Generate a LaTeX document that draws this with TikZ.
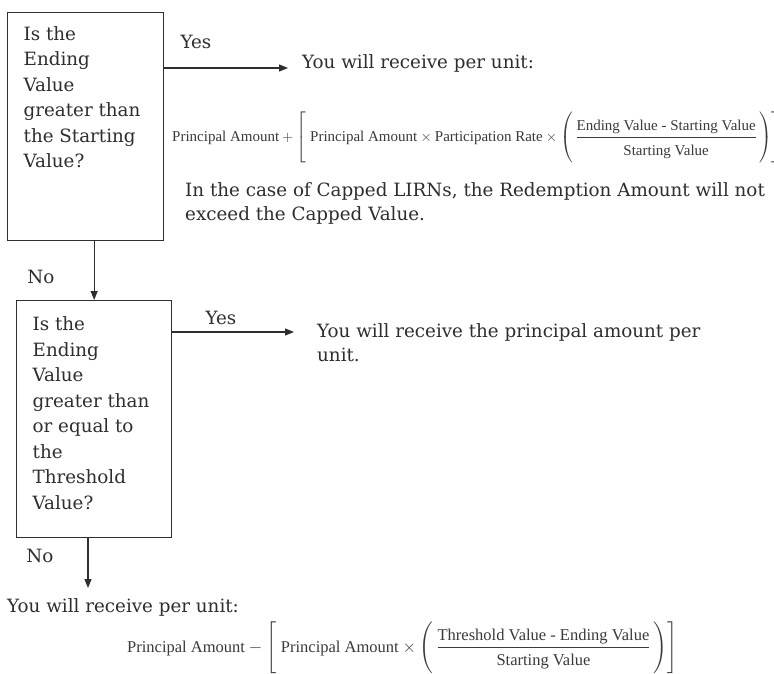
\documentclass[tikz,border=0pt]{standalone}
\usepackage{fontspec}
\usepackage{amsmath}
\setmainfont{DejaVu Serif}
\newfontfamily\formfont{Liberation Serif}
\usetikzlibrary{arrows.meta}
\definecolor{ink}{HTML}{2E2E2E}
\definecolor{fink}{HTML}{3A3A3A}
\begin{document}
\begin{tikzpicture}[x=1pt,y=-1pt,
  box/.style={draw=ink, line width=1.3pt, inner sep=0pt, anchor=north west, text=ink, font=\fontsize{18.3}{25.5}\selectfont},
  lbl/.style={text=ink, inner sep=0pt, font=\fontsize{18.3}{24}\selectfont},
  para/.style={lbl, align=left, anchor=base west},
  formA/.style={text=fink, inner sep=0pt, anchor=base west, font=\formfont\fontsize{15}{18}\selectfont},
  formB/.style={text=fink, inner sep=0pt, anchor=base west, font=\formfont\fontsize{16.5}{19}\selectfont},
  arr/.style={draw=ink, line width=1.1pt, -{Triangle[length=9pt,width=7pt]}}]
\useasboundingbox[fill=white] (0,0) rectangle (774,673);

% decision boxes
\node[box] (b1) at (7,12) {\begin{minipage}[c][228pt][t]{156pt}\setlength{\leftskip}{16pt}\rule{0pt}{27.5pt}Is the\\ Ending\\ Value\\ greater than\\ the Starting\\ Value?\end{minipage}};
\node[box] (b2) at (16,300) {\begin{minipage}[c][237pt][t]{155pt}\setlength{\leftskip}{16pt}\rule{0pt}{30pt}Is the\\ Ending\\ Value\\ greater than\\ or equal to\\ the\\ Threshold\\ Value?\end{minipage}};

% outcome texts
\node[para] (t1) at (302,68) {You will receive per unit:};
\node[formA] (f1) at (172,141) {$\text{Principal Amount} + \left[\rule[-24pt]{0pt}{50pt}\;\text{Principal Amount} \times \text{Participation Rate} \times \left(\rule[-21pt]{0pt}{44pt}\,\dfrac{\text{Ending Value - Starting Value}\rule[-5pt]{0pt}{5pt}}{\rule{0pt}{16pt}\text{Starting Value}}\,\right)\right]$};
\node[para] (t2) at (185,220) {In the case of Capped LIRNs, the Redemption Amount will not\\exceed the Capped Value.};
\node[para] (t3) at (317,361) {You will receive the principal amount per\\unit.};
\node[para] (t4) at (7,612) {You will receive per unit:};
\node[formB] (f2) at (127,652) {$\text{Principal Amount} - \left[\rule[-24pt]{0pt}{50pt}\;\text{Principal Amount} \times \left(\rule[-21pt]{0pt}{44pt}\,\dfrac{\text{Threshold Value - Ending Value}\rule[-3pt]{0pt}{3pt}}{\rule{0pt}{15pt}\text{Starting Value}}\,\right)\right]$};

% branch labels
\node[lbl] (y1) at (196,42) {Yes};
\node[lbl] (n1) at (41,277) {No};
\node[lbl] (y2) at (221,318) {Yes};
\node[lbl] (n2) at (40,556) {No};

% connectors
\coordinate (a1) at (288,68);
\coordinate (a2) at (294,332);
\coordinate (a3) at (88,588);
\draw[arr] (b1.east |- a1) -- (a1);
\draw[arr] (b2.north |- b1.south) -- (b2.north);
\draw[arr] (b2.east |- a2) -- (a2);
\draw[arr] (b2.south -| a3) -- (a3);
\end{tikzpicture}
\end{document}
